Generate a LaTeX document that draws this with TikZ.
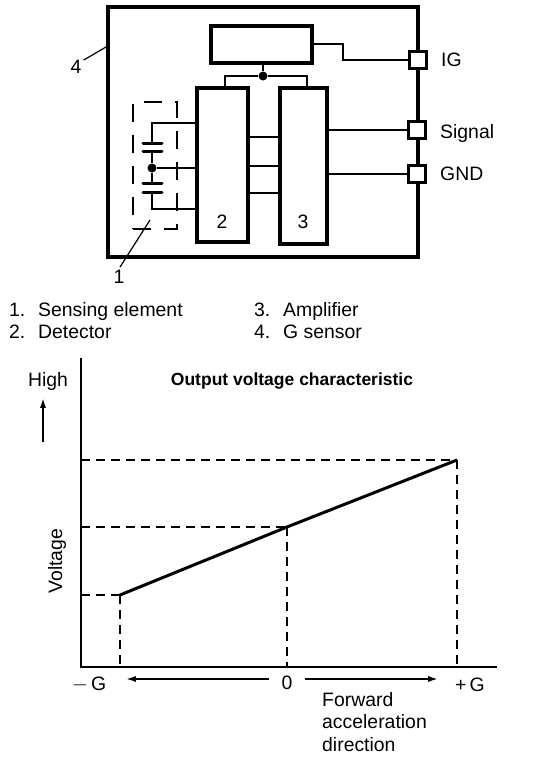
\documentclass[tikz,border=0pt]{standalone}
\usepackage{fontspec}
\setmainfont{Liberation Sans}
\usetikzlibrary{
  arrows.meta,
  calc
}
\newcommand{\lblfont}{\fontsize{19.4}{22.5}\selectfont}
\newcommand{\ttlfont}{\fontsize{17.5}{21}\selectfont\bfseries}
\tikzset{
  thickbox/.style={draw,line width=4pt,fill=white,inner sep=0pt},
  padbox/.style={draw,line width=3pt,fill=white,inner sep=0pt,minimum size=17pt},
  wire/.style={draw,line width=2pt},
  thinleader/.style={draw,line width=1.2pt},
  jointdot/.style={circle,fill=black,inner sep=0pt,minimum size=9pt},
  plate/.style={draw,line width=3pt,line cap=round},
  sensedash/.style={draw,line width=2.5pt,dash pattern=on 18pt off 13pt},
  guidedash/.style={draw,line width=2pt,dash pattern=on 9pt off 6pt},
  axisline/.style={draw,line width=2pt},
  dirarrow/.style={-{Latex[length=3.5mm,width=2.2mm]},line width=1.8pt},
  lbl/.style={font=\lblfont,inner sep=0pt},
  lblwest/.style={lbl,anchor=west},
}

\begin{document}
\begin{tikzpicture}[x=1pt,y=-1pt]
  \useasboundingbox (0,0) rectangle (544,764);

  % Sensor housing
  \node[thickbox,minimum width=310pt,minimum height=250pt] (housing) at (263,132) {};
  \node[thickbox,minimum width=101pt,minimum height=37pt] (topbox) at (261.5,44.5) {};
  \node[thickbox,minimum width=51pt,minimum height=154pt] (detector) at (222.5,165) {};
  \node[thickbox,minimum width=47pt,minimum height=156pt] (amplifier) at (303.5,166) {};
  \node[lbl] (detnum) at (222,222) {2};
  \node[lbl] (ampnum) at (303,222) {3};

  % Pads on the right wall
  \node[padbox] (padig) at (418,60) {};
  \node[padbox] (padsig) at (417,130) {};
  \node[padbox] (padgnd) at (417,174) {};
  \node[lblwest] (lig) at (441,60) {IG};
  \node[lblwest] (lsig) at (440,133) {Signal};
  \node[lblwest] (lgnd) at (440,174) {GND};

  % Wiring
  \node[jointdot] (busdot) at (263,76) {};
  \draw[wire] (topbox.south -| busdot) -- (busdot);
  \draw[wire] (detector.north -| 225,0) |- (busdot) -| (amplifier.north -| 307,0);
  \draw[wire] (topbox.east |- 0,44) -- (343,44) |- (padig);
  \draw[wire] (amplifier.east |- padsig) -- (padsig);
  \draw[wire] (amplifier.east |- padgnd) -- (padgnd);
  \foreach \y in {137,166,193} {
    \draw[wire] (detector.east |- 0,\y) -- (amplifier.west |- 0,\y);
  }

  % Sensing element
  \node[sensedash,minimum width=44pt,minimum height=127pt,inner sep=0pt] (sensing) at (155,165.5) {};
  \node[jointdot] (capdot) at (152,168) {};
  \coordinate (plateA) at (152,143);
  \coordinate (plateB) at (152,151);
  \coordinate (plateC) at (152,183);
  \coordinate (plateD) at (152,192);
  \draw[wire] (detector.west |- 0,123) -| (plateA);
  \draw[wire] (plateB) -- (capdot) -- (plateC);
  \draw[wire] (capdot) -- (capdot -| detector.west);
  \draw[wire] (detector.west |- 0,209) -| (plateD);
  \foreach \p in {plateA,plateB,plateC,plateD} {
    \draw[plate] ($(\p)+(-9,0)$) -- ($(\p)+(10,0)$);
  }

  % Leaders
  \node[lbl] (lfour) at (76,67) {4};
  \node[lbl] (lone) at (119,277) {1};
  \draw[thinleader] (lfour.north east) ++(2,0) -- (housing.west |- 0,47);
  \draw[thinleader] (lone.north) ++(1,-3) -- (150,220);

  % Legend
  \node[lblwest] (leg1) at (9,311) {1.\hspace{0.66em}Sensing element};
  \node[lblwest] (leg2) at (9,332) {2.\hspace{0.66em}Detector};
  \node[lblwest] (leg3) at (254,311) {3.\hspace{0.66em}Amplifier};
  \node[lblwest] (leg4) at (254,332) {4.\hspace{0.66em}G sensor};

  % Characteristic
  \coordinate (origin) at (81,667);
  \coordinate (ytop) at (81,358);
  \coordinate (xend) at (497,667);
  \coordinate (low) at (120,595);
  \coordinate (mid) at (287,527);
  \coordinate (high) at (457,460);
  \draw[axisline] (ytop) -- (origin) -- (xend);
  \foreach \p in {low,mid,high} {
    \draw[guidedash] (origin |- \p) -- (\p);
    \draw[guidedash] (\p) -- (\p |- origin);
  }
  \draw[line width=3pt] (low) -- (mid) -- (high);
  \node[lbl,font=\ttlfont] (ctitle) at (292,381) {Output voltage characteristic};
  \node[lbl] (lhigh) at (48,381) {High};
  \coordinate (hightail) at (43,442);
  \coordinate (hightip) at (43,398);
  \draw[dirarrow] (hightail) -- (hightip);
  \node[lbl,rotate=90] (lvolt) at (57,561) {Voltage};

  % Acceleration axis
  \node[lbl] (lminus) at (89,685) {$-$\,G};
  \node[lbl] (lzero) at (287,683) {0};
  \node[lbl] (lplus) at (470,685) {+\,G};
  \draw[dirarrow] ($(lzero.west)+(-12,-4)$) -- (126,679);
  \draw[dirarrow] ($(lzero.east)+(12,-4)$) -- (438,679);
  \node[lbl,anchor=north west,align=left] (lforward) at (322,692) {Forward\\acceleration\\direction};
\end{tikzpicture}
\end{document}
